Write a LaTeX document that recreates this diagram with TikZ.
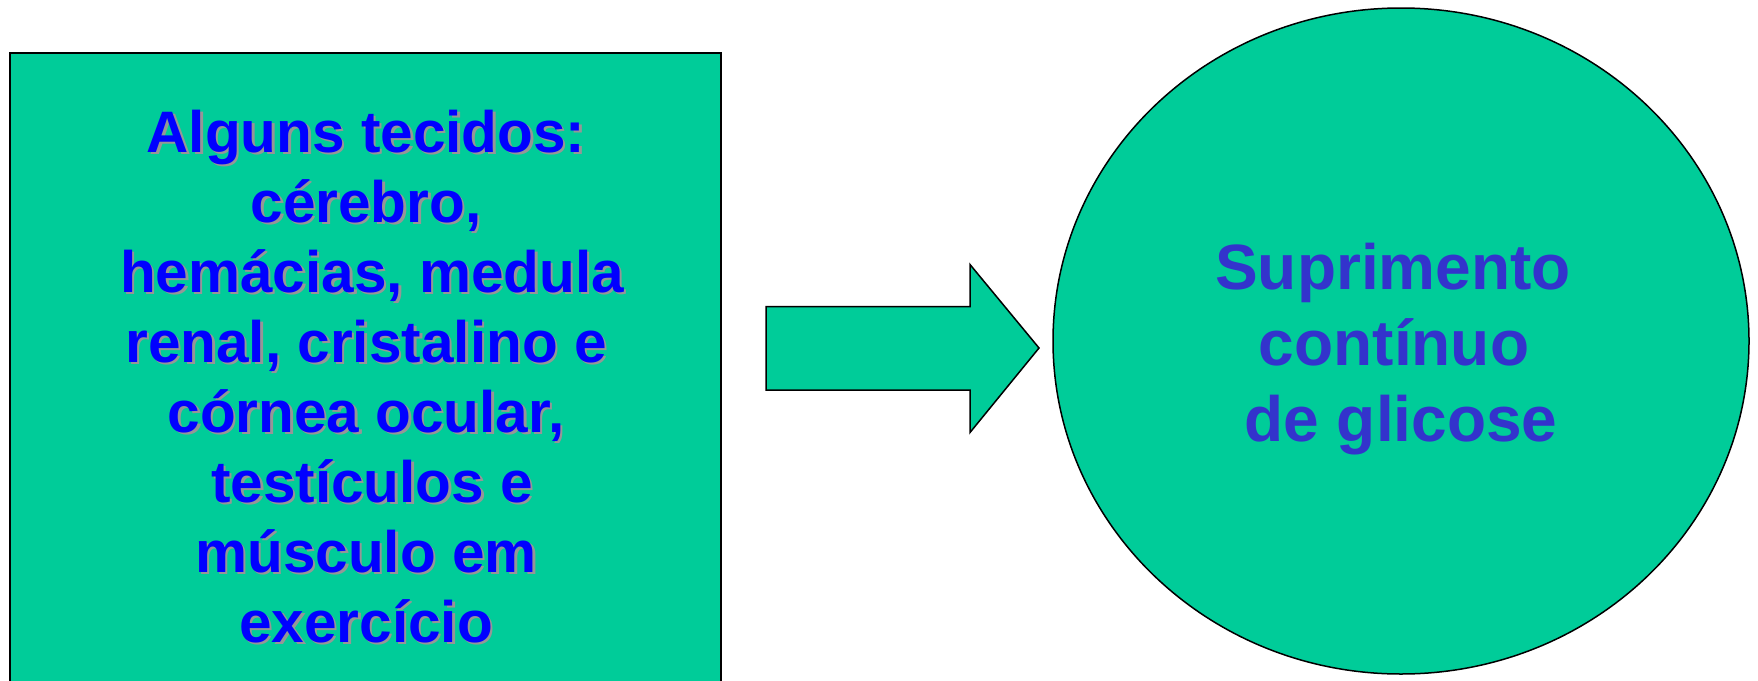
\documentclass[tikz,border=0pt]{standalone}
\usepackage{fontspec}
\setmainfont{Liberation Sans}
\usetikzlibrary{shapes.geometric}
\definecolor{tgreen}{RGB}{0,204,153}
\definecolor{tblue}{RGB}{0,0,255}
\definecolor{cblue}{RGB}{51,51,204}
\definecolor{shadowgray}{RGB}{150,150,150}
\tikzset{
  boxshape/.style={draw=black, line width=2pt, fill=tgreen, minimum width=711pt, minimum height=647pt, inner sep=0pt},
  circshape/.style={ellipse, draw=black, line width=1.5pt, fill=tgreen, minimum width=696pt, minimum height=666pt, inner sep=0pt},
  arrowshape/.style={draw=black, line width=1.5pt, fill=tgreen, line join=miter},
  lefttext/.style={anchor=base, inner sep=0pt, text=tblue, font=\fontsize{58.5}{70}\selectfont\bfseries},
  leftshadow/.style={anchor=base, inner sep=0pt, text=shadowgray, font=\fontsize{58.5}{70}\selectfont\bfseries},
  righttext/.style={anchor=base, inner sep=0pt, text=cblue, font=\fontsize{64}{76}\selectfont\bfseries}
}
\begin{document}
\begin{tikzpicture}[x=1pt,y=-1pt]
\useasboundingbox (0,0) rectangle (1758,680);
\clip (0,0) rectangle (1758,680);
\fill[white] (0,0) rectangle (1758,680);
\node[boxshape] (box) at (365.5,376.5) {};
\node[circshape] (circ) at (1401,341) {};
\draw[arrowshape] (766,306.5) coordinate (a1) -- (970,306.5) coordinate (a2) -- (970,264.5) coordinate (a3) -- (1039,348) coordinate (tip) -- (970,432.5) coordinate (a5) -- (970,390) coordinate (a6) -- (766,390) coordinate (a7) -- cycle;
\foreach \t/\dx [count=\i] in {{Alguns tecidos:}/0, {cérebro,}/0, {hemácias, medula}/6, {renal, cristalino e}/0, {córnea ocular,}/0, {testículos e}/6, {músculo em}/0, {exercício}/0} {
  \node[leftshadow] (s\i) at ({366+\dx+2.5},{152+70*(\i-1)+2.5}) {\t};
  \node[lefttext] (l\i) at ({366+\dx},{152+70*(\i-1)}) {\t};
}
\node[righttext] (r1) at (1393,289) {Suprimento};
\node[righttext] (r2) at (1394,365) {contínuo};
\node[righttext] (r3) at (1401,441) {de glicose};
\end{tikzpicture}
\end{document}
